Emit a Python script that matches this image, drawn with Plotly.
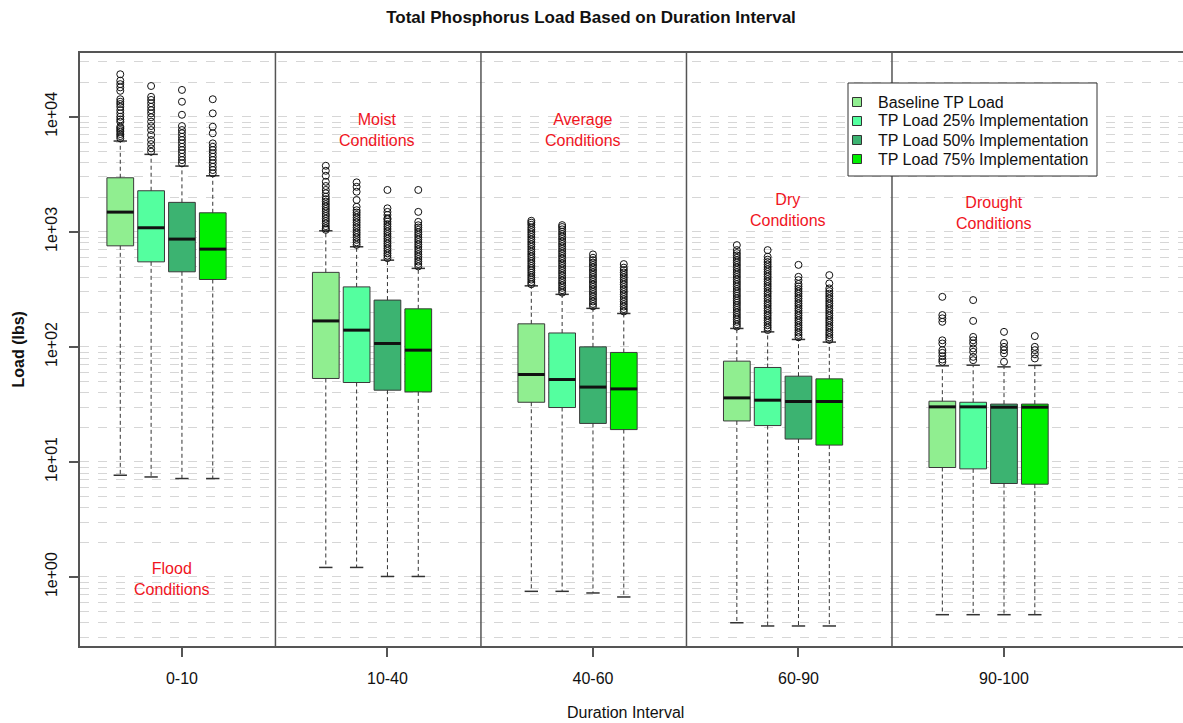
import math
import plotly.graph_objects as go

# ---- data -----------------------------------------------------------------
INTERVALS = ["0-10", "10-40", "40-60", "60-90", "90-100"]
SERIES = [
    "Baseline TP Load",
    "TP Load 25% Implementation",
    "TP Load 50% Implementation",
    "TP Load 75% Implementation",
]
CONDITIONS = ["Flood", "Moist", "Average", "Dry", "Drought"]
CONDITION_Y = [0.955, 7660, 7660, 1545, 1455]  # vertical anchor of each condition label (lbs)

# box statistics per series, one value per duration interval (lbs)
Q1 = [
    [755, 53.1, 33.0, 22.7, 8.94],
    [548, 49.0, 29.7, 20.7, 8.7],
    [449, 42.0, 21.6, 15.8, 6.49],
    [385, 40.6, 19.1, 14.0, 6.4],
]
MEDIAN = [
    [1483, 168, 57.5, 36.0, 30.1],
    [1084, 139.7, 52.0, 34.4, 30.1],
    [864, 107, 44.7, 33.5, 29.9],
    [707, 93.6, 43.1, 33.5, 29.9],
]
Q3 = [
    [2948, 444, 158.5, 75.1, 33.7],
    [2274, 332, 132, 66.2, 33.0],
    [1802, 255, 100, 55.6, 31.8],
    [1463, 214, 89.4, 52.7, 31.8],
]
LOW_WHISKER = [
    [7.66, 1.21, 0.75, 0.40, 0.47],
    [7.4, 1.21, 0.75, 0.375, 0.47],
    [7.17, 1.01, 0.726, 0.375, 0.47],
    [7.17, 1.01, 0.67, 0.375, 0.47],
]
HIGH_WHISKER = [
    [6150, 1020, 339, 144.5, 68.4],
    [4710, 741, 286, 135, 69.3],
    [3726, 567, 216, 116, 67.0],
    [3069, 481, 195, 110, 69.0],
]

# outlying loads above the upper whisker
OUTLIERS_BASE = [
    [6490, 6790, 7080, 7410, 7660, 7930, 8190, 9060, 9480, 10000, 10700, 11400,
     12200, 12900, 13500, 14200, 16800, 18000, 19200, 20600, 23400],
    [1040, 1070, 1120, 1180, 1240, 1300, 1370, 1430, 1510, 1580, 1660, 1740, 1830,
     1920, 2020, 2160, 2310, 2500, 2720, 3070, 3390, 3750],
    [350, 366, 384, 401, 420, 441, 462, 483, 505, 530, 556, 582, 611, 640, 672,
     705, 741, 778, 816, 857, 900, 945, 992, 1040, 1090, 1150, 1200, 1247],
    [150, 157, 165, 173, 181, 190, 199, 209, 219, 230, 241, 252, 264, 277, 290,
     304, 318, 334, 350, 367, 385, 404, 424, 445, 467, 490, 514, 540, 566, 594,
     623, 653, 693, 766],
    [74.1, 77.6, 83.0, 88.7, 93.6, 107, 114, 165, 177, 189, 272],
]
OUTLIERS_25 = [
    [4970, 5310, 5780, 6270, 6930, 7660, 8300, 9060, 9890, 10700, 11400, 12200,
     13100, 14000, 14900, 18500],
    [770, 810, 850, 895, 940, 985, 1035, 1090, 1145, 1205, 1265, 1330, 1400, 1470,
     1540, 1650, 1890, 2230, 2460, 2690],
    [296, 311, 326, 342, 359, 377, 396, 416, 437, 459, 482, 506, 531, 558, 586,
     615, 646, 678, 712, 748, 785, 824, 866, 909, 954, 1002, 1050, 1100, 1143],
    [140, 147, 154, 162, 170, 178, 187, 196, 206, 216, 227, 238, 250, 263, 276,
     290, 304, 320, 336, 352, 370, 388, 408, 428, 449, 472, 495, 520, 546, 573,
     607, 693],
    [76.6, 81.8, 90.5, 96.8, 107, 114, 122, 168, 255],
]
OUTLIERS_50 = [
    [3940, 4200, 4490, 4810, 5130, 5480, 5870, 6270, 6700, 7180, 7660, 8300,
     10400, 13500, 17100],
    [590, 620, 650, 683, 717, 753, 790, 830, 871, 915, 960, 1008, 1058, 1110,
     1166, 1225, 1285, 1310, 1400, 1490, 1600, 2310],
    [225, 236, 248, 260, 273, 287, 301, 316, 332, 348, 366, 384, 403, 423, 444,
     466, 490, 514, 540, 567, 595, 636],
    [121, 127, 133, 140, 147, 154, 162, 170, 178, 187, 196, 206, 216, 227, 238,
     250, 263, 276, 290, 304, 319, 335, 352, 380, 406, 516],
    [74.1, 87.6, 93.6, 100, 108, 135],
]
OUTLIERS_75 = [
    [3220, 3440, 3670, 3940, 4200, 4490, 4810, 5130, 5480, 5870, 7180, 8190,
     10700, 14200],
    [500, 525, 551, 579, 608, 638, 670, 704, 739, 776, 815, 856, 898, 943, 990,
     1040, 1090, 1140, 1220, 1490, 2310],
    [203, 213, 224, 235, 247, 259, 272, 286, 300, 315, 331, 348, 365, 383, 402,
     422, 443, 465, 488, 524],
    [115, 121, 127, 133, 140, 147, 154, 162, 170, 178, 187, 196, 206, 216, 227,
     238, 250, 263, 276, 290, 305, 322, 356, 420],
    [79.3, 86.4, 93.6, 100, 124],
]
OUTLIERS = [OUTLIERS_BASE, OUTLIERS_25, OUTLIERS_50, OUTLIERS_75]

# ---- styling --------------------------------------------------------------
COLORS = ["#90EE90", "#54FF9F", "#3CB371", "#00F000"]
FONT = "Liberation Sans, Arial, sans-serif"
AXIS_COLOR = "#555555"
GRID_COLOR = "#d6d6d6"
TEXT_RED = "#F0141E"

W, H = 1183, 723
M_L, M_R, M_T, M_B = 80, 0, 53, 77
PLOT_W = W - M_L - M_R
PLOT_H = H - M_T - M_B


def px_x(px):
    """Horizontal pixel position -> paper fraction."""
    return (px - M_L) / PLOT_W


def px_y(py):
    """Vertical pixel position (from top) -> paper fraction."""
    return (H - M_B - py) / PLOT_H


GROUP_POS = [1, 2, 3, 4, 5]
OFFSETS = [-0.30, -0.15, 0.0, 0.15]
BOX_W = 0.13
CAP_W = BOX_W / 2

fig = go.Figure()

# dashed whiskers and solid staples
wx, wy, cx, cy = [], [], [], []
for s in range(len(SERIES)):
    for g, gp in enumerate(GROUP_POS):
        xc = gp + OFFSETS[s]
        wx += [xc, xc, None, xc, xc, None]
        wy += [Q3[s][g], HIGH_WHISKER[s][g], None, Q1[s][g], LOW_WHISKER[s][g], None]
        for v in (HIGH_WHISKER[s][g], LOW_WHISKER[s][g]):
            cx += [xc - CAP_W / 2, xc + CAP_W / 2, None]
            cy += [v, v, None]
fig.add_trace(go.Scatter(x=wx, y=wy, mode="lines", showlegend=False, hoverinfo="skip",
                         line=dict(color="#333333", width=1, dash="4px,3px")))
fig.add_trace(go.Scatter(x=cx, y=cy, mode="lines", showlegend=False, hoverinfo="skip",
                         line=dict(color="#333333", width=1.5)))

# boxes
for s, name in enumerate(SERIES):
    xs = [gp + OFFSETS[s] for gp in GROUP_POS]
    fig.add_trace(go.Box(
        x=xs, q1=Q1[s], median=MEDIAN[s], q3=Q3[s],
        lowerfence=Q1[s], upperfence=Q3[s],
        width=BOX_W, whiskerwidth=0, boxpoints=False,
        fillcolor=COLORS[s], line=dict(color="#3a3a3a", width=1),
        name=name, hoverinfo="skip", showlegend=False,
    ))

# thick median bars
mx, my = [], []
for s in range(len(SERIES)):
    for g, gp in enumerate(GROUP_POS):
        xc = gp + OFFSETS[s]
        mx += [xc - BOX_W / 2, xc + BOX_W / 2, None]
        my += [MEDIAN[s][g], MEDIAN[s][g], None]
fig.add_trace(go.Scatter(x=mx, y=my, mode="lines", showlegend=False, hoverinfo="skip",
                         line=dict(color="#111111", width=3)))

# outlier circles
ox, oy = [], []
for s in range(len(SERIES)):
    for g, gp in enumerate(GROUP_POS):
        for v in OUTLIERS[s][g]:
            ox.append(gp + OFFSETS[s])
            oy.append(v)
fig.add_trace(go.Scatter(x=ox, y=oy, mode="markers", showlegend=False, hoverinfo="skip",
                         marker=dict(symbol="circle-open", size=7, color="#111111",
                                     line=dict(width=1, color="#111111"))))

# condition labels
annotations = []
for g, gp in enumerate(GROUP_POS):
    annotations.append(dict(
        x=gp - 0.05, y=math.log10(CONDITION_Y[g]), xref="x", yref="y",
        text=f"{CONDITIONS[g]}<br>Conditions", showarrow=False,
        font=dict(family=FONT, size=16, color=TEXT_RED), align="center",
        xanchor="center", yanchor="middle",
    ))
annotations.append(dict(
    x=px_x(18), y=0.5, xref="paper", yref="paper", text="<b>Load (lbs)</b>",
    textangle=-90, showarrow=False, xanchor="center", yanchor="middle",
    font=dict(family=FONT, size=16, color="#111111"),
))
annotations.append(dict(
    x=px_x(625), y=px_y(712), xref="paper", yref="paper", text="Duration Interval",
    showarrow=False, xanchor="center", yanchor="middle",
    font=dict(family=FONT, size=16, color="#111111"),
))

# interval separators
shapes = [dict(type="line", xref="x", yref="paper", x0=gp + 0.455, x1=gp + 0.455,
               y0=0, y1=1, line=dict(color=AXIS_COLOR, width=1.5))
          for gp in GROUP_POS[:-1]]

# legend panel: frame, colour keys and series names
LEG_LEFT, LEG_RIGHT, LEG_TOP, LEG_BOTTOM = 848, 1097, 83, 176
LEG_ROW0, LEG_ROW_STEP = 102, 19
KEY_X, KEY_HALF, LABEL_X = 857, 4.5, 876
shapes.append(dict(type="rect", xref="paper", yref="paper",
                   x0=px_x(LEG_LEFT), x1=px_x(LEG_RIGHT),
                   y0=px_y(LEG_BOTTOM), y1=px_y(LEG_TOP),
                   fillcolor="white", line=dict(color="#333333", width=1)))
for s, name in enumerate(SERIES):
    ry = LEG_ROW0 + s * LEG_ROW_STEP
    shapes.append(dict(type="rect", xref="paper", yref="paper",
                       x0=px_x(KEY_X - KEY_HALF), x1=px_x(KEY_X + KEY_HALF),
                       y0=px_y(ry + KEY_HALF), y1=px_y(ry - KEY_HALF),
                       fillcolor=COLORS[s], line=dict(color="#333333", width=1)))
    annotations.append(dict(
        x=px_x(LABEL_X), y=px_y(ry), xref="paper", yref="paper", text=name,
        showarrow=False, xanchor="left", yanchor="middle",
        font=dict(family=FONT, size=16, color="#111111"),
    ))

decades = [1, 10, 100, 1000, 10000]
minor_vals = [d * m for d in [0.1, 1, 10, 100, 1000, 10000] for m in range(2, 10)]

fig.update_layout(
    width=W, height=H,
    margin=dict(l=M_L, r=M_R, t=M_T, b=M_B),
    paper_bgcolor="white", plot_bgcolor="white",
    font=dict(family=FONT, size=16, color="#111111"),
    title=dict(text="<b>Total Phosphorus Load Based on Duration Interval</b>",
               x=0.4996, xref="container", xanchor="center",
               y=1 - 17 / H, yref="container", yanchor="middle",
               font=dict(family=FONT, size=17, color="#111111")),
    boxmode="overlay",
    showlegend=False,
    annotations=annotations,
    shapes=shapes,
)

fig.update_xaxes(
    range=[0.504, 5.871], tickmode="array", tickvals=GROUP_POS, ticktext=INTERVALS,
    ticks="outside", ticklen=9, tickcolor=AXIS_COLOR, tickwidth=1.5,
    showline=True, linecolor=AXIS_COLOR, linewidth=1.5, mirror=True,
    showgrid=False, zeroline=False, ticklabelstandoff=8,
    tickfont=dict(family=FONT, size=16, color="#111111"),
)
fig.update_yaxes(
    type="log", range=[-0.6, 4.554], tickmode="array", tickvals=decades,
    ticktext=["1e+00", "1e+01", "1e+02", "1e+03", "1e+04"], tickangle=-90,
    ticks="outside", ticklen=9, tickcolor=AXIS_COLOR, tickwidth=1.5,
    showline=True, linecolor=AXIS_COLOR, linewidth=1.5,
    showgrid=True, gridcolor=GRID_COLOR, griddash="dash", gridwidth=1,
    minor=dict(tickmode="array", tickvals=minor_vals, showgrid=True,
               gridcolor=GRID_COLOR, griddash="dash", gridwidth=1, ticks=""),
    zeroline=False, ticklabelstandoff=6,
    tickfont=dict(family=FONT, size=16, color="#111111"),
)

fig.write_html("out.html")
